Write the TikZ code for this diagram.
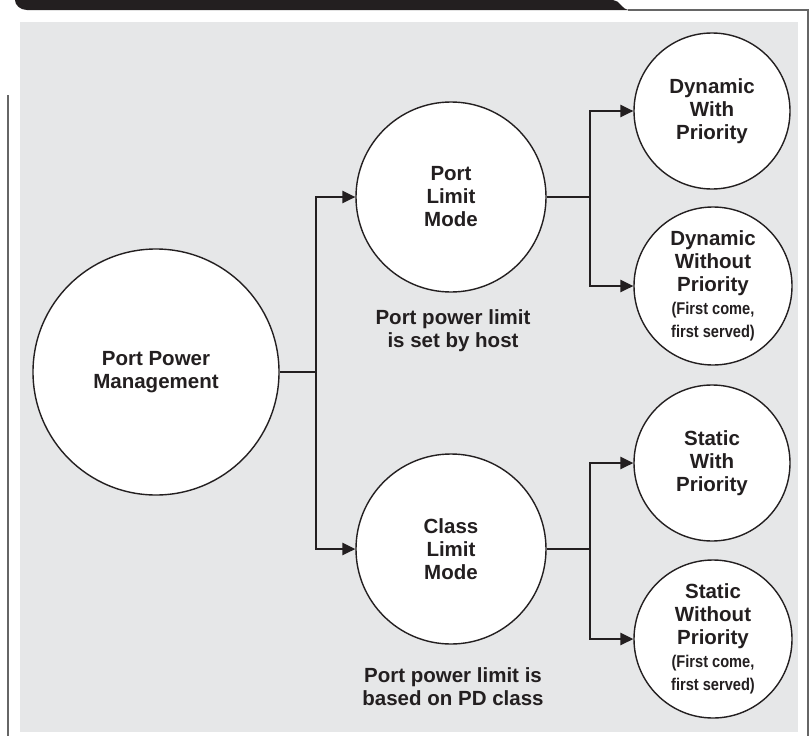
\documentclass[tikz,border=0pt]{standalone}
\usepackage{fontspec}
\setmainfont{Liberation Sans}
\newfontfamily\narrowsans[FakeStretch=0.86]{Liberation Sans}
\usetikzlibrary{arrows.meta,positioning}
\definecolor{inkdark}{HTML}{231F20}
\definecolor{panelgray}{HTML}{E6E7E8}
\definecolor{framegray}{HTML}{666666}
\tikzset{
  mode/.style={
    circle,
    draw=inkdark, line width=1.4pt,
    fill=white,
    inner sep=0pt,
    text=inkdark,
    font=\bfseries\fontsize{20.5}{23}\selectfont
  },
  note/.style={
    text=inkdark,
    font=\bfseries\fontsize{20.5}{23}\selectfont
  },
}
\newcommand{\subnote}[1]{{\narrowsans\bfseries\fontsize{17}{19.5}\selectfont #1}}

\begin{document}
\begin{tikzpicture}[x=1pt,y=-1pt,->,>={Triangle[length=13pt,width=12.5pt]},line width=1.4pt,draw=inkdark,every text node part/.style={align=center}]

\useasboundingbox (0,0) rectangle (811,736);

% header tab and page frame
\fill[inkdark] (15,0) -- (613,0) .. controls (620,0) and (621,10) .. (630,10) -- (27,10) .. controls (20,10) and (15,5) .. (15,0) -- cycle;
\draw[-,framegray,line width=1.2pt] (628,10) -- (808,10) -- (808,736);
\draw[-,framegray,line width=2pt] (8,95) -- (8,736);
\fill[panelgray] (20,22) rectangle (798,732);

\node[mode, minimum size=246pt] (PPM) at (156,372) {Port Power\\Management};

\node[mode, minimum size=190pt] (PLM) at (451,197) {Port\\Limit\\Mode};
\node[note] (PLMNOTE) at (453,331) {Port power limit\\is set by host};

\node[mode, minimum size=190pt] (CLM) at (451,549) {Class\\Limit\\Mode};
\node[note] (CLMNOTE) at (453,687) {Port power limit is\\based on PD class};

\node[mode, minimum size=156pt] (DWP) at (712,111) {Dynamic\\With\\Priority};
\node[mode, minimum size=158pt] (DWOP) at (713,286) {Dynamic\\Without\\Priority\\\subnote{(First come,}\\\subnote{first served)}};
\node[mode, minimum size=156pt] (SWP) at (712,463) {Static\\With\\Priority};
\node[mode, minimum size=158pt] (SWOP) at (713,639) {Static\\Without\\Priority\\\subnote{(First come,}\\\subnote{first served)}};

\coordinate (SPLIT) at (316,372);
\coordinate (PLMSPLIT) at (590,197);
\coordinate (CLMSPLIT) at (590,549);

\draw [-] (PPM) -- (SPLIT);
\draw [->] (SPLIT) |- (PLM);
\draw [->] (SPLIT) |- (CLM);

\draw [-] (PLM) -- (PLMSPLIT);
\draw [->] (PLMSPLIT) |- (DWP);
\draw [->] (PLMSPLIT) |- (DWOP);

\draw [-] (CLM) -- (CLMSPLIT);
\draw [->] (CLMSPLIT) |- (SWP);
\draw [->] (CLMSPLIT) |- (SWOP);
\end{tikzpicture}
\end{document}
